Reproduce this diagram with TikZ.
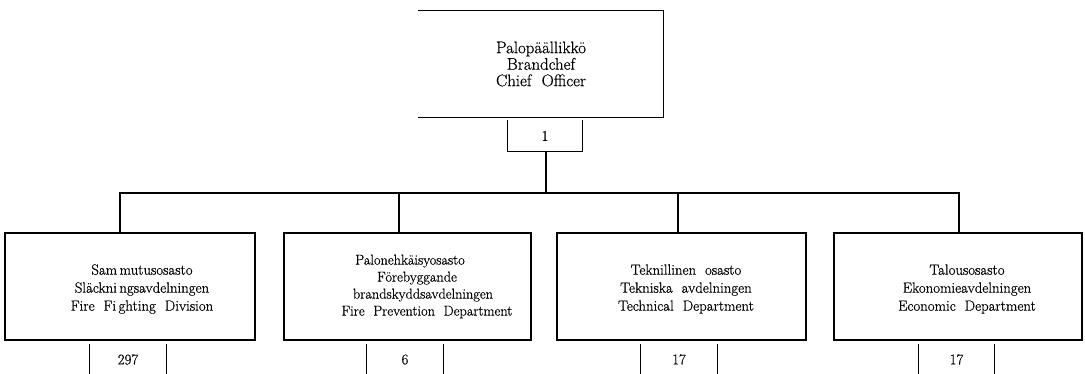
\documentclass[tikz,border=0pt]{standalone}
\usepackage{fontspec}
\setmainfont{Latin Modern Roman}[FakeBold=0.6]
\begin{document}
\begin{tikzpicture}[x=1pt,y=-1pt,
  ln/.style={line width=1.3pt,line cap=rect},
  unitbox/.style={draw,ln,rectangle,inner sep=0pt,minimum height=107pt},
  unittext/.style={inner sep=0pt,align=center,font=\fontsize{14.8}{18}\selectfont},
  topbox/.style={rectangle,inner sep=0pt,align=center,
     font=\fontsize{16.8}{16.5}\selectfont},
  countnode/.style={rectangle,inner sep=0pt,minimum width=76pt,minimum height=29pt,
     font=\fontsize{14.8}{17}\selectfont}]
\useasboundingbox (0,0) rectangle (1085,374);

% chief officer
\node[topbox,minimum width=244pt,minimum height=107pt] (chief) at (541,64)
  {Palopäällikkö\\Brandchef\\Chief\ \ Officer};
\draw[ln] (chief.north west) -- (chief.north east) -- (chief.south east);
\draw[ln] (chief.south west) -- (chief.south east);

\node[countnode,minimum width=74pt,minimum height=31pt] (c0) at (545,136) {1};
\draw[ln] (c0.north west) -- (c0.south west) -- (c0.south east) -- (c0.north east);

% bus
\coordinate (b0) at (546,193);
\coordinate (d1) at (120,193);
\coordinate (d2) at (399,193);
\coordinate (d3) at (678,193);
\coordinate (d4) at (959,193);
\draw[ln] (c0.south -| b0) -- (b0);
\draw[ln] (d1) -- (d4);

% units
\node[unitbox,minimum width=250pt] (u1) at (130,286.5) {};
\node[unitbox,minimum width=247pt] (u2) at (407.5,286.5) {};
\node[unitbox,minimum width=249pt] (u3) at (681.5,286.5) {};
\node[unitbox,minimum width=248pt] (u4) at (958,286.5) {};

\node[unittext] (t1) at (142,289)
  {Sam\,mutusosasto\\Släckni\,ngsavdelningen\\Fire\ \ Fi\,ghting\ \ Division};
\node[unittext,font=\fontsize{14.3}{17}\selectfont] (t2) at (427,286.5)
  {\mbox{Palonehkäisyosasto\hspace{34pt}}\\\mbox{Förebyggande\hspace{20pt}}\\\mbox{brandskyddsavdelningen\hspace{8pt}}\\Fire\ \ Prevention\ \ Department};
\node[unittext] (t3) at (686,289)
  {Teknillinen\ \ osasto\\Tekniska\ \ avdelningen\\Technical\ \ Department};
\node[unittext] (t4) at (967,289)
  {Talousosasto\\Ekonomieavdelningen\\Economic\ \ Department};

\draw[ln] (d1) -- (d1 |- u1.north);
\draw[ln] (d2) -- (d2 |- u2.north);
\draw[ln] (d3) -- (d3 |- u3.north);
\draw[ln] (d4) -- (d4 |- u4.north);

% counts
\node[countnode] (c1) at (128,359.5) {297};
\node[countnode] (c2) at (405,359.5) {6};
\node[countnode] (c3) at (679,359.5) {17};
\node[countnode] (c4) at (956.5,359.5) {17};
\foreach \c in {c1,c2,c3,c4}{
  \draw[ln] (\c.north west) -- (\c.south west);
  \draw[ln] (\c.north east) -- (\c.south east);
}
\end{tikzpicture}
\end{document}
